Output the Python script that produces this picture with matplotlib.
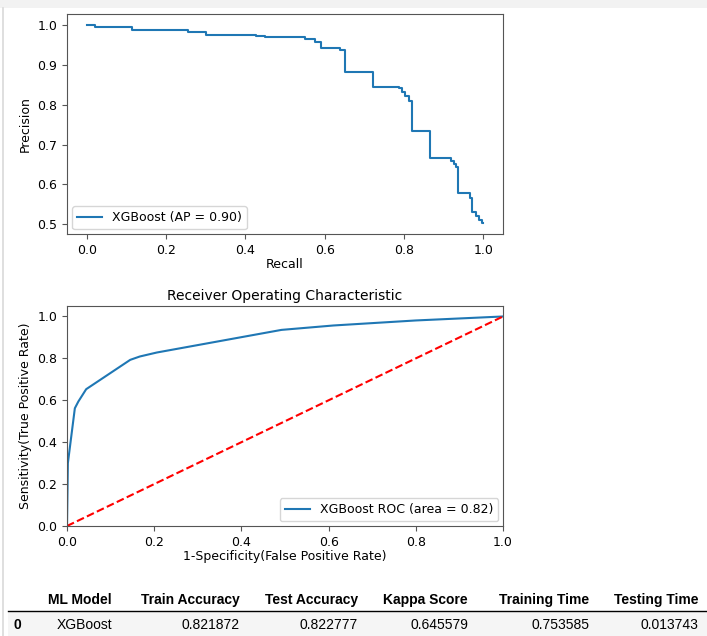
import numpy as np
import matplotlib
matplotlib.use("Agg")
import matplotlib.pyplot as plt
from matplotlib.patches import Rectangle
from matplotlib.lines import Line2D

# Precision-recall curve (steps-post)
recall = [0.0, 0.021, 0.113, 0.255, 0.30, 0.428, 0.45, 0.55, 0.575, 0.592, 0.639,
          0.651, 0.721, 0.788, 0.796, 0.804, 0.812, 0.821, 0.867, 0.918, 0.926,
          0.931, 0.937, 0.966, 0.972, 0.983, 0.990, 0.996, 1.0]
precision = [1.0, 0.994, 0.9875, 0.983, 0.975, 0.9725, 0.969, 0.964, 0.958, 0.9415, 0.937,
             0.883, 0.845, 0.841, 0.832, 0.822, 0.810, 0.733, 0.666, 0.660, 0.652,
             0.645, 0.578, 0.566, 0.530, 0.520, 0.511, 0.503, 0.503]
ap_label = "XGBoost (AP = 0.90)"

# ROC curve
fpr = [0.0, 0.002, 0.018, 0.026, 0.044, 0.145, 0.167, 0.206, 0.492, 0.611, 0.80, 1.0]
tpr = [0.0, 0.30, 0.562, 0.594, 0.653, 0.793, 0.809, 0.828, 0.936, 0.957, 0.981, 1.0]
roc_label = "XGBoost ROC (area = 0.82)"

# results table
table_cols = ["ML Model", "Train Accuracy", "Test Accuracy", "Kappa Score", "Training Time", "Testing Time"]
table_row = ["XGBoost", "0.821872", "0.822777", "0.645579", "0.753585", "0.013743"]
row_index = "0"

W, H = 707, 636
fig = plt.figure(figsize=(W / 100, H / 100), dpi=100)
fig.patch.set_facecolor("white")

# notebook frame bits
fig.add_artist(Rectangle((0, 1 - 8 / H), 1, 8 / H, transform=fig.transFigure,
                         facecolor="#f2f2f2", edgecolor="none"))
fig.add_artist(Line2D([3 / W, 3 / W], [0, 1 - 8 / H], transform=fig.transFigure,
                      color="#d9d9d9", lw=1.2))

fs = 9
spine_col = "#555555"

## precision-recall
ax1 = fig.add_axes([67 / W, 1 - 234 / H, 436 / W, 220 / H])
ax1.plot(recall, precision, drawstyle="steps-post", color="#1f77b4", lw=1.5, label=ap_label)
ax1.set_xlim(-0.05, 1.05)
ax1.set_ylim(0.4757, 1.0276)
ax1.set_xticks(np.arange(0, 1.01, 0.2))
ax1.set_yticks([0.5, 0.6, 0.7, 0.8, 0.9, 1.0])
ax1.set_xlabel("Recall", fontsize=fs, labelpad=1)
ax1.set_ylabel("Precision", fontsize=fs, labelpad=4)
ax1.legend(loc="lower left", fontsize=fs, borderaxespad=0.4)

## ROC
ax2 = fig.add_axes([67 / W, 1 - 526 / H, 436 / W, 220 / H])
ax2.plot(fpr, tpr, color="#1f77b4", lw=1.5, label=roc_label)
ax2.plot([0, 1], [0, 1], "r--", lw=1.5)
ax2.set_xlim(0.0, 1.0)
ax2.set_ylim(0.0, 1.05)
ax2.set_xticks(np.arange(0, 1.01, 0.2))
ax2.set_yticks(np.arange(0, 1.01, 0.2))
ax2.set_xlabel("1-Specificity(False Positive Rate)", fontsize=fs, labelpad=1)
ax2.set_ylabel("Sensitivity(True Positive Rate)", fontsize=fs, labelpad=4)
ax2.set_title("Receiver Operating Characteristic", fontsize=fs + 1, pad=4)
ax2.legend(loc="lower right", fontsize=fs, borderaxespad=0.4)

for ax in (ax1, ax2):
    ax.tick_params(labelsize=fs, color=spine_col, length=3.5)
    for sp in ax.spines.values():
        sp.set_color(spine_col)

## table (pandas-style html look)
tfont = "Liberation Sans"
col_right = [112, 240, 358, 468, 589, 698]
y_head = 1 - 600 / H
y_row = 1 - 625 / H
fig.add_artist(Rectangle((8 / W, 0), 1, 1 - 612 / H, transform=fig.transFigure,
                         facecolor="#f5f5f5", edgecolor="none"))
fig.add_artist(Line2D([8 / W, 1], [1 - 611 / H, 1 - 611 / H], transform=fig.transFigure,
                      color="black", lw=1.0))
for name, val, xr in zip(table_cols, table_row, col_right):
    fig.text(xr / W, y_head, name, ha="right", va="center", fontsize=10,
             fontweight="bold", family=tfont)
    fig.text(xr / W, y_row, val, ha="right", va="center", fontsize=10, family=tfont)
fig.text(13 / W, y_row, row_index, ha="left", va="center", fontsize=10,
         fontweight="bold", family=tfont)

fig.savefig("out.png", dpi=100)
